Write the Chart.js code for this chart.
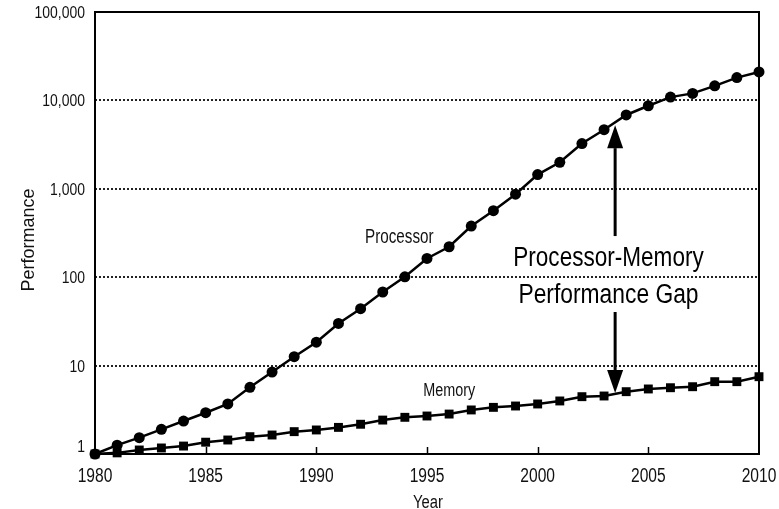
<!DOCTYPE html>
<html>
<head>
<meta charset="utf-8">
<script src="https://cdn.jsdelivr.net/npm/chart.js@4.4.1/dist/chart.umd.min.js"></script>
<style>
  html, body { margin: 0; padding: 0; background: #fff; }
  #wrap { width: 779px; height: 509px; }
</style>
</head>
<body>
<div id="wrap"><canvas id="c" width="779" height="509"></canvas></div>
<script>
// Relative performance, 1980 = 1 (log scale)
const years = [1980,1981,1982,1983,1984,1985,1986,1987,1988,1989,
               1990,1991,1992,1993,1994,1995,1996,1997,1998,1999,
               2000,2001,2002,2003,2004,2005,2006,2007,2008,2009,2010];
const processor = [1.0,1.26,1.53,1.9,2.36,2.93,3.68,5.68,8.46,12.6,
                   18.4,30,44,68,101,163,221,379,565,868,
                   1450,1995,3250,4660,6840,8700,10900,12000,14600,18100,21000];
const memory = [1.0,1.03,1.11,1.17,1.23,1.36,1.44,1.57,1.64,1.79,
                1.87,2.0,2.17,2.42,2.6,2.69,2.83,3.15,3.37,3.49,
                3.68,3.98,4.45,4.53,5.07,5.44,5.62,5.77,6.58,6.58,7.49];
const xTicks = [1980,1985,1990,1995,2000,2005,2010];
const yTicks = [1,10,100,1000,10000,100000];

const FAMILY = "'Liberation Sans', Arial, Helvetica, sans-serif";

// Draw condensed text by squeezing the regular face horizontally
function narrowText(ctx, text, x, y, size, align, squeeze) {
  ctx.save();
  ctx.translate(x, y);
  ctx.scale(squeeze || 0.8, 1);
  ctx.font = size + 'px ' + FAMILY;
  ctx.textAlign = align || 'center';
  ctx.textBaseline = 'alphabetic';
  ctx.fillText(text, 0, 0);
  ctx.restore();
}

const toPoints = vals => years.map((y, i) => ({ x: y, y: vals[i] }));

// Frame, inward x tick marks, tick labels, axis titles and the gap annotation
const decor = {
  id: 'decor',
  beforeDatasetsDraw(chart) {
    const { ctx, chartArea: a, scales: { x } } = chart;
    ctx.save();
    ctx.strokeStyle = '#000';
    ctx.lineWidth = 2;
    ctx.strokeRect(a.left, a.top, a.right - a.left, a.bottom - a.top);
    ctx.lineWidth = 1.5;
    x.ticks.slice(1, -1).forEach(t => {
      const px = Math.round(x.getPixelForValue(t.value)) + 0.5;
      ctx.beginPath();
      ctx.moveTo(px, a.bottom);
      ctx.lineTo(px, a.bottom - 7);
      ctx.stroke();
    });
    ctx.restore();
  },
  afterDatasetsDraw(chart) {
    const { ctx, chartArea: a, scales: { x, y } } = chart;
    ctx.save();
    ctx.fillStyle = '#111';

    // tick labels
    x.ticks.forEach(t => {
      narrowText(ctx, String(t.value), x.getPixelForValue(t.value), 482, 19.5, 'center', 0.8);
    });
    y.ticks.forEach(t => {
      const py = y.getPixelForValue(t.value) + (t.value === 1 ? -8 : 0);
      narrowText(ctx, Number(t.value).toLocaleString('en-US'), 85, py + 6, 17, 'right', 0.82);
    });

    // axis titles
    narrowText(ctx, 'Year', (a.left + a.right) / 2 + 1, 508, 18, 'center', 0.82);
    ctx.save();
    ctx.translate(34, 240);
    ctx.rotate(-Math.PI / 2);
    ctx.font = '18px ' + FAMILY;
    ctx.textAlign = 'center';
    ctx.fillText('Performance', 0, 0);
    ctx.restore();

    // series labels
    narrowText(ctx, 'Processor', x.getPixelForValue(1993.75), y.getPixelForValue(244), 19.5, 'center', 0.78);
    narrowText(ctx, 'Memory', x.getPixelForValue(1996.0), y.getPixelForValue(4.53), 18, 'center', 0.8);

    // gap label
    ctx.fillStyle = '#000';
    narrowText(ctx, 'Processor-Memory', x.getPixelForValue(2003.2), y.getPixelForValue(134), 27, 'center', 0.835);
    narrowText(ctx, 'Performance Gap', x.getPixelForValue(2003.2), y.getPixelForValue(51), 27, 'center', 0.845);

    // arrows
    const ax = x.getPixelForValue(2003.5);
    const arrow = (fromV, toV) => {
      const y0 = y.getPixelForValue(fromV);
      const y1 = y.getPixelForValue(toV);
      const dir = y1 < y0 ? 1 : -1;
      const head = 23;
      ctx.strokeStyle = '#000';
      ctx.lineWidth = 3;
      ctx.beginPath();
      ctx.moveTo(ax, y0);
      ctx.lineTo(ax, y1 + dir * head);
      ctx.stroke();
      ctx.fillStyle = '#000';
      ctx.beginPath();
      ctx.moveTo(ax, y1);
      ctx.lineTo(ax - 8, y1 + dir * head);
      ctx.lineTo(ax + 8, y1 + dir * head);
      ctx.closePath();
      ctx.fill();
    };
    arrow(292, 5250);
    arrow(40.4, 4.9);
    ctx.restore();
  }
};

new Chart(document.getElementById('c'), {
  type: 'line',
  data: {
    datasets: [
      {
        label: 'Processor',
        data: toPoints(processor),
        borderColor: '#000',
        backgroundColor: '#000',
        borderWidth: 2.5,
        pointStyle: 'circle',
        pointRadius: 5.5,
        pointBorderWidth: 0,
        pointBackgroundColor: '#000',
        tension: 0,
        clip: false
      },
      {
        label: 'Memory',
        data: toPoints(memory),
        borderColor: '#000',
        backgroundColor: '#000',
        borderWidth: 2.5,
        pointStyle: 'rect',
        pointRadius: 6.3,
        pointBorderWidth: 0,
        pointBackgroundColor: '#000',
        tension: 0,
        clip: false
      }
    ]
  },
  options: {
    responsive: false,
    animation: false,
    devicePixelRatio: 1,
    layout: { padding: { top: 12, right: 20, left: 0, bottom: 0 } },
    plugins: { legend: { display: false }, tooltip: { enabled: false } },
    scales: {
      x: {
        type: 'linear',
        min: 1980,
        max: 2010,
        afterBuildTicks: s => { s.ticks = xTicks.map(v => ({ value: v })); },
        afterFit: s => { s.height = 55; },
        grid: { display: false, drawTicks: false },
        border: { display: false },
        ticks: { display: false }
      },
      y: {
        type: 'logarithmic',
        min: 1,
        max: 100000,
        afterBuildTicks: s => { s.ticks = yTicks.map(v => ({ value: v })); },
        afterFit: s => { s.width = 95; },
        grid: {
          drawTicks: false,
          lineWidth: 2,
          color: c => (c.tick && (c.tick.value === 1 || c.tick.value === 100000)) ? 'rgba(0,0,0,0)' : '#222'
        },
        border: { display: false, dash: [2, 2] },
        ticks: { display: false }
      }
    }
  },
  plugins: [decor]
});
</script>
</body>
</html>
